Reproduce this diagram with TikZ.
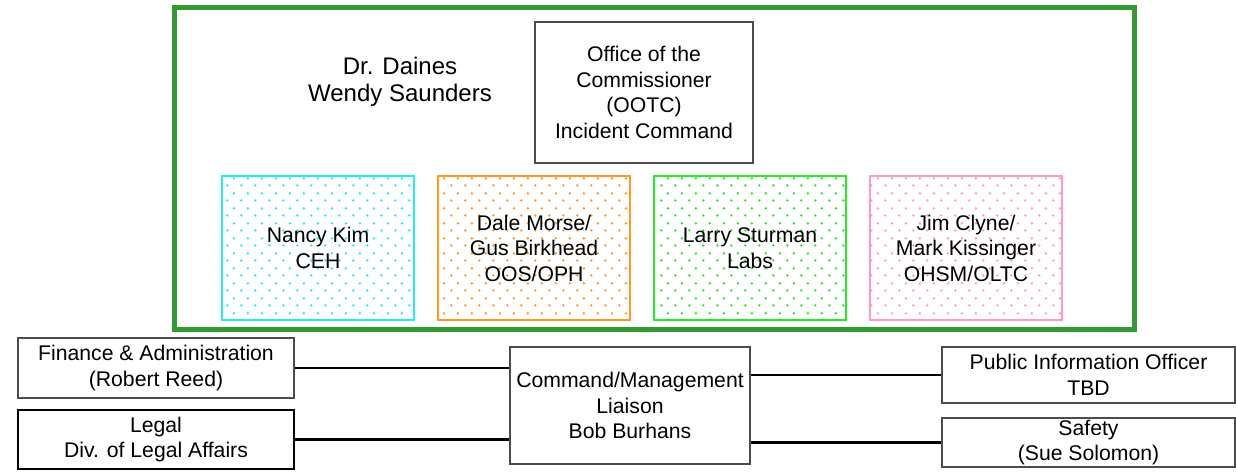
\documentclass[tikz,border=0pt]{standalone}
\usepackage{fontspec}
\setmainfont{Liberation Sans}
\usetikzlibrary{patterns,positioning}
\usepackage{xcolor}

\definecolor{framegreen}{HTML}{339933}
\definecolor{tcyan}{HTML}{22EEEE}
\definecolor{torange}{HTML}{FF9922}
\definecolor{tgreen}{HTML}{22EE22}
\definecolor{tpink}{HTML}{FF99CC}

% staggered dot fill for the team boxes
\pgfdeclarepatternformonly{sparsedots}{\pgfqpoint{0pt}{0pt}}{\pgfqpoint{14pt}{15pt}}{\pgfqpoint{14pt}{15pt}}{
  \pgfpathcircle{\pgfqpoint{3.5pt}{3.75pt}}{1.4pt}
  \pgfpathcircle{\pgfqpoint{10.5pt}{11.25pt}}{1.4pt}
  \pgfusepath{fill}}

\begin{document}
\begin{tikzpicture}[x=1pt, y=-1pt, font=\fontsize{21.2}{25.5}\selectfont]
  \tikzstyle{box} = [rectangle, draw=black!70, line width=1.3pt, fill=white, align=center, inner sep=0pt]
  \tikzstyle{team} = [rectangle, line width=2pt, align=center, inner sep=0pt, minimum width=192, minimum height=144]
  \tikzstyle{link} = [draw, black, line width=2.2pt]

  \useasboundingbox (0,0) rectangle (1236,474);

  % incident command group
  \node[draw=framegreen, line width=5pt, minimum width=960, minimum height=321.5] (group) at (654.5,168.25) {};
  \node[align=center, font=\fontsize{24}{27.5}\selectfont] (heads) at (400,82) {Dr. Daines\\Wendy Saunders};
  \node[box, minimum width=218, minimum height=141] (ootc) at (644,92.5) {Office of the\\Commissioner\\(OOTC)\\Incident Command};

  \node[team, draw=tcyan, fill=white, postaction={pattern=sparsedots, pattern color=tcyan}] (ceh) at (318,248) {Nancy Kim\\CEH};
  \node[team, draw=torange, fill=white, postaction={pattern=sparsedots, pattern color=torange}] (oph) at (534,248) {Dale Morse/\\Gus Birkhead\\OOS/OPH};
  \node[team, draw=tgreen, fill=white, postaction={pattern=sparsedots, pattern color=tgreen}] (labs) at (750,248) {Larry Sturman\\Labs};
  \node[team, draw=tpink, fill=white, postaction={pattern=sparsedots, pattern color=tpink}] (oltc) at (966,248) {Jim Clyne/\\Mark Kissinger\\OHSM/OLTC};

  % command staff
  \node[box, minimum width=276, minimum height=60] (finance) at (156,368) {Finance \& Administration\\(Robert Reed)};
  \node[box, draw=black, line width=2pt, minimum width=276, minimum height=59] (legal) at (156,439.5) {Legal\\Div. of Legal Affairs};
  \node[box, minimum width=240, minimum height=117] (liaison) at (630,405.5) {Command/Management\\Liaison\\Bob Burhans};
  \node[box, minimum width=293, minimum height=56] (pio) at (1088.5,375) {Public Information Officer\\TBD};
  \node[box, minimum width=293, minimum height=49] (safety) at (1088.5,442.5) {Safety\\(Sue Solomon)};

  \path[link] (finance.east) -- (finance.east -| liaison.west);
  \path[link] (legal.east) -- (legal.east -| liaison.west);
  \path[link] (pio.west -| liaison.east) -- (pio.west);
  \path[link] (safety.west -| liaison.east) -- (safety.west);
\end{tikzpicture}
\end{document}
